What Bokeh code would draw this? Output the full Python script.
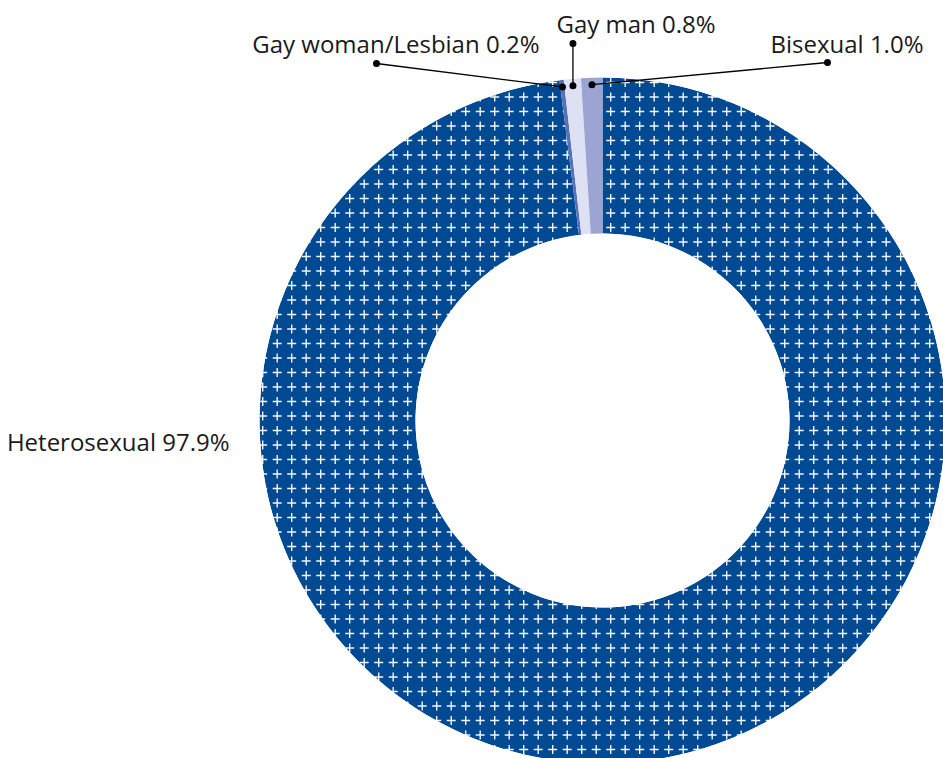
import numpy as np
from bokeh.plotting import figure
from bokeh.models import Range1d
from bokeh.core.properties import value
from bokeh.embed import file_html
from bokeh.resources import INLINE

# ---- data ----
categories = ["Heterosexual", "Gay woman/Lesbian", "Gay man", "Bisexual"]
percents = [97.9, 0.2, 0.8, 1.0]
labels = ["Heterosexual 97.9%", "Gay woman/Lesbian 0.2%", "Gay man 0.8%", "Bisexual 1.0%"]
colors = ["#004a93", "#5a70b6", "#dde1f3", "#9ba4d3"]

# ---- layout (pixels) ----
W, H = 943, 758
CX, CY = 602, H - 420
R_OUT, R_IN = 343, 187
FONT = "Open Sans"
FS = "24px"
TXT = "#1a1a1a"

def py(y):  # pixel y (top-down) -> data y
    return H - y

p = figure(width=W, height=H, output_backend="svg", toolbar_location=None,
           x_range=Range1d(0, W), y_range=Range1d(0, H), min_border=0)
p.axis.visible = False
p.grid.visible = False
p.outline_line_color = None
p.background_fill_color = None
p.border_fill_color = None

vals = np.array(percents, dtype=float)
frac = vals / vals.sum()
cum = np.concatenate([[0], np.cumsum(frac)])
start = np.pi / 2 - 2 * np.pi * cum[:-1]
end = np.pi / 2 - 2 * np.pi * cum[1:]
mid = (start + end) / 2

# main (hatched) slice
p.annular_wedge(x=CX, y=CY, inner_radius=R_IN, outer_radius=R_OUT,
                start_angle=start[0], end_angle=end[0], direction="clock",
                fill_color=colors[0], line_color=None)

# plus-sign texture: a regular grid of crosses, clipped by white masks below
STEP = 14.5
gx = np.arange(711.7 - STEP * 40, W + STEP, STEP)
gy = np.arange(604 - STEP * 40, H + STEP, STEP)
XX, YY = np.meshgrid(gx, gy)
XX = XX.ravel(); YY = py(YY.ravel())
rr = np.hypot(XX - CX, YY - CY)
keep = (rr > R_IN - 8) & (rr < R_OUT + 8)
p.scatter(XX[keep], YY[keep], marker="cross", size=9, line_color="white",
          line_width=1.4, line_alpha=0.95)

# masks to clip the crosses
p.annulus(x=CX, y=CY, inner_radius=R_OUT, outer_radius=R_OUT + 12,
          fill_color="white", line_color=None)
p.circle(x=CX, y=CY, radius=R_IN, fill_color="white", line_color=None)

# small slices on top
for i in range(1, len(categories)):
    p.annular_wedge(x=CX, y=CY, inner_radius=R_IN, outer_radius=R_OUT,
                    start_angle=start[i], end_angle=end[i], direction="clock",
                    fill_color=colors[i], line_color=None)

# leader lines for the small slices
R_ANCH = 336
ends = {1: (376, 63), 2: (None, 43), 3: (827, 62)}
for i, (ex, ey) in ends.items():
    ax = CX + R_ANCH * np.cos(mid[i])
    ay = CY + R_ANCH * np.sin(mid[i])
    if ex is None:
        ex = ax
    bx, by = ex, py(ey)
    p.line([ax, bx], [ay, by], line_color="black", line_width=1.3)
    p.scatter([ax, bx], [ay, by], size=7, marker="circle", fill_color="black", line_color=None)

# labels
text_pos = [(229, 441, "right"), (539, 43, "right"), (556, 23, "left"), (770, 43, "left")]
for (tx, ty, al), lab in zip(text_pos, labels):
    p.text(x=[tx], y=[py(ty)], text=[lab], text_font=value(FONT), text_font_size=FS,
           text_color=TXT, text_align=al, text_baseline="alphabetic")

open("out.html", "w").write(file_html(p, INLINE))
